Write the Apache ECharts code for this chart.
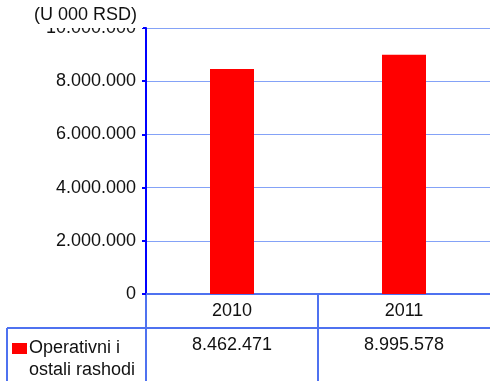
<!DOCTYPE html>
<html>
<head>
<meta charset="utf-8">
<script src="https://cdn.jsdelivr.net/npm/echarts@6/dist/echarts.min.js"></script>
<style>
  html, body { margin: 0; padding: 0; background: #fff; }
  #chart { width: 490px; height: 381px; }
</style>
</head>
<body>
<div id="chart"></div>
<script>
// Data
var categories = ['2010', '2011'];
var seriesName = 'Operativni i\nostali rashodi';
var values = [8462471, 8995578];
var unitLabel = '(U 000 RSD)';
var yMin = 0, yMax = 10000000, yStep = 2000000;

var FONT = '"Liberation Sans", Arial, sans-serif';
var AXIS_BLUE = '#0000ff';
var TABLE_BLUE = '#4f72f0';
var GRID_BLUE = '#84a2f7';
var BAR_RED = '#ff0000';

function fmt(v) {
  return String(Math.round(v)).replace(/\B(?=(\d{3})+(?!\d))/g, '.');
}

var chart = echarts.init(document.getElementById('chart'), null, { renderer: 'canvas' });

chart.setOption({
  animation: false,
  backgroundColor: '#fff',
  title: {
    text: unitLabel,
    left: 28,
    top: 4,
    padding: [2, 6, 4, 6],
    backgroundColor: '#fff',
    textStyle: { fontFamily: FONT, fontSize: 18, fontWeight: 'normal', color: '#111' }
  },
  grid: { left: 146, top: 28, width: 348, height: 266, containLabel: false },
  xAxis: {
    type: 'category',
    data: categories,
    axisLine: { show: true, lineStyle: { color: TABLE_BLUE, width: 2 } },
    axisTick: { show: false },
    splitLine: { show: false },
    axisLabel: { margin: 8, fontFamily: FONT, fontSize: 18, color: '#111' }
  },
  yAxis: {
    type: 'value',
    min: yMin,
    max: yMax,
    interval: yStep,
    axisLine: { show: true, lineStyle: { color: AXIS_BLUE, width: 2 } },
    axisTick: { show: true, length: 4, lineStyle: { color: AXIS_BLUE, width: 2 } },
    splitLine: { show: true, lineStyle: { color: GRID_BLUE, width: 1 } },
    axisLabel: { margin: 10, fontFamily: FONT, fontSize: 18, color: '#111', formatter: fmt }
  },
  series: [{
    name: seriesName,
    type: 'bar',
    data: values,
    barWidth: 44,
    itemStyle: { color: BAR_RED },
    z: 1
  }]
});

// Data table under the category axis, aligned to the axis bands
function drawTable() {
  var c0 = chart.convertToPixel({ xAxisIndex: 0 }, 0);
  var c1 = chart.convertToPixel({ xAxisIndex: 0 }, 1);
  var band = c1 - c0;
  var y0 = chart.convertToPixel({ yAxisIndex: 0 }, yMin);
  var rowTop = y0 + 34;
  var bottom = 400;
  var tableLeft = 7;
  var right = c1 + band / 2;
  var els = [];
  var ls = { stroke: TABLE_BLUE, lineWidth: 2 };

  els.push({ type: 'line', shape: { x1: tableLeft, y1: rowTop, x2: right, y2: rowTop }, style: ls });
  els.push({ type: 'line', shape: { x1: tableLeft, y1: rowTop, x2: tableLeft, y2: bottom }, style: ls });
  for (var i = 0; i < categories.length; i++) {
    var bx = c0 - band / 2 + i * band;
    els.push({ type: 'line', shape: { x1: bx, y1: y0, x2: bx, y2: bottom }, style: ls });
  }
  values.forEach(function (v, i) {
    var cx = chart.convertToPixel({ xAxisIndex: 0 }, i);
    els.push({
      type: 'text', x: cx, y: rowTop + 8,
      style: { text: fmt(v), fill: '#111', font: '18px ' + FONT, align: 'center', verticalAlign: 'top' }
    });
  });
  // legend key
  els.push({ type: 'rect', shape: { x: 12, y: rowTop + 15, width: 15, height: 11 }, style: { fill: BAR_RED } });
  els.push({
    type: 'text', x: 29, y: rowTop + 9,
    style: { text: seriesName, fill: '#111', font: '18px ' + FONT, lineHeight: 22, align: 'left', verticalAlign: 'top' }
  });
  chart.setOption({ graphic: { elements: els } });
}
drawTable();
</script>
</body>
</html>
